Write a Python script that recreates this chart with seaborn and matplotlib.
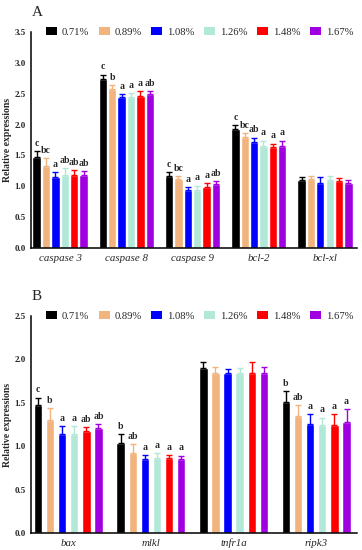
import numpy as np
import pandas as pd
import matplotlib.pyplot as plt
import seaborn as sns
from matplotlib.patches import Patch

# dietary levels (hue) and colours
levels = ['0.71%', '0.89%', '1.08%', '1.26%', '1.48%', '1.67%']
colors = ['#000000', '#F2B47E', '#0000FF', '#B2E8D8', '#FF0000', '#A000E0']

# panel A
genes_a = ['caspase 3', 'caspase 8', 'caspase 9', 'bcl-2', 'bcl-xl']
mean_a = [
    [1.47, 1.33, 1.15, 1.19, 1.18, 1.18],
    [2.74, 2.58, 2.45, 2.44, 2.47, 2.49],
    [1.17, 1.12, 0.94, 0.94, 0.99, 1.03],
    [1.93, 1.80, 1.71, 1.66, 1.64, 1.65],
    [1.10, 1.11, 1.05, 1.10, 1.09, 1.05],
]
sd_a = [
    [0.10, 0.13, 0.08, 0.10, 0.08, 0.07],
    [0.07, 0.06, 0.04, 0.07, 0.07, 0.05],
    [0.06, 0.05, 0.05, 0.07, 0.06, 0.05],
    [0.06, 0.06, 0.08, 0.08, 0.05, 0.09],
    [0.05, 0.06, 0.10, 0.06, 0.05, 0.05],
]
sig_a = [
    ['c', 'bc', 'a', 'ab', 'ab', 'ab'],
    ['c', 'b', 'a', 'a', 'a', 'ab'],
    ['c', 'bc', 'a', 'a', 'a', 'ab'],
    ['c', 'bc', 'ab', 'a', 'a', 'a'],
    ['', '', '', '', '', ''],
]

# panel B
genes_b = ['bax', 'mlkl', 'tnfr1a', 'ripk3']
mean_b = [
    [1.47, 1.30, 1.14, 1.14, 1.18, 1.21],
    [1.04, 0.92, 0.85, 0.86, 0.86, 0.85],
    [1.90, 1.84, 1.84, 1.84, 1.84, 1.84],
    [1.51, 1.35, 1.25, 1.24, 1.24, 1.28],
]
sd_b = [
    [0.09, 0.14, 0.09, 0.09, 0.04, 0.04],
    [0.10, 0.10, 0.05, 0.06, 0.04, 0.04],
    [0.07, 0.07, 0.05, 0.06, 0.13, 0.07],
    [0.12, 0.12, 0.12, 0.09, 0.13, 0.15],
]
sig_b = [
    ['c', 'b', 'a', 'a', 'ab', 'ab'],
    ['b', 'ab', 'a', 'a', 'a', 'a'],
    ['', '', '', '', '', ''],
    ['b', 'ab', 'a', 'a', 'a', 'a'],
]

SERIF = ['Liberation Serif', 'DejaVu Serif']


def draw_panel(ax, genes, means, sds, sigs, ymax, xlim, width, gap):
    df = pd.DataFrame(
        [(g, lv, means[i][j]) for i, g in enumerate(genes) for j, lv in enumerate(levels)],
        columns=['gene', 'level', 'value'],
    )
    sns.barplot(data=df, x='gene', y='value', hue='level', order=genes,
                hue_order=levels, palette=colors, errorbar=None, width=width,
                gap=gap, legend=False, ax=ax, saturation=1)

    # error bars (upper only) and significance letters
    bar_groups = list(ax.containers)
    for j, cont in enumerate(bar_groups):
        for i, bar in enumerate(cont):
            x = bar.get_x() + bar.get_width() / 2
            y = bar.get_height()
            e = sds[i][j]
            ax.errorbar(x, y, yerr=[[0], [e]], fmt='none', ecolor=colors[j],
                        elinewidth=1.0, capsize=2.2, capthick=1.0)
            if sigs[i][j]:
                ax.text(x, y + e + 0.015 * ymax, sigs[i][j], ha='center', va='bottom',
                        fontsize=7, fontweight='bold', family=SERIF)

    ax.set_ylim(0, ymax)
    ax.set_xlim(*xlim)
    ax.set_yticks(np.arange(0, ymax + 0.01, 0.5))
    ax.set_yticklabels([f'{v:.1f}' for v in np.arange(0, ymax + 0.01, 0.5)],
                       fontsize=6.5, fontweight='bold', family=SERIF)
    ax.set_xticks(range(len(genes)))
    ax.set_xticklabels(genes, fontsize=7.8, style='italic', family=SERIF)
    ax.set_xlabel('')
    ax.set_ylabel('Relative expressions', fontsize=7, fontweight='bold', family=SERIF)
    ax.yaxis.set_label_coords(-0.057, 0.5)
    ax.tick_params(axis='both', direction='out', length=2.5, width=1, pad=1.5)
    for s in ['top', 'right']:
        ax.spines[s].set_visible(False)
    for s in ['left', 'bottom']:
        ax.spines[s].set_linewidth(1.1)
        ax.spines[s].set_color('black')

    handles = [Patch(facecolor=c, edgecolor='none') for c in colors]
    ax.legend(handles, levels, ncol=6, frameon=False, loc='center',
              bbox_to_anchor=(0.517, 1.0), prop={'family': SERIF, 'size': 7.7},
              handlelength=1.03, handleheight=0.8, handletextpad=0.42,
              columnspacing=0.93, borderaxespad=0, borderpad=0)


sns.set_theme(style='white')
fig = plt.figure(figsize=(3.62, 5.5), dpi=100)
ax_a = fig.add_axes([0.0856, 0.549, 0.900, 0.393])
ax_b = fig.add_axes([0.0856, 0.031, 0.900, 0.3945])

draw_panel(ax_a, genes_a, mean_a, sd_a, sig_a, 3.5, (-0.44, 4.48), 0.85, 0.11)
draw_panel(ax_b, genes_b, mean_b, sd_b, sig_b, 2.5, (-0.45, 3.49), 0.878, 0.31)

fig.text(32 / 362, 1 - 12 / 550, 'A', fontsize=11, family=SERIF, ha='left', va='center')
fig.text(32 / 362, 1 - 297 / 550, 'B', fontsize=11, family=SERIF, ha='left', va='center')

fig.savefig('out.png', dpi=100)
